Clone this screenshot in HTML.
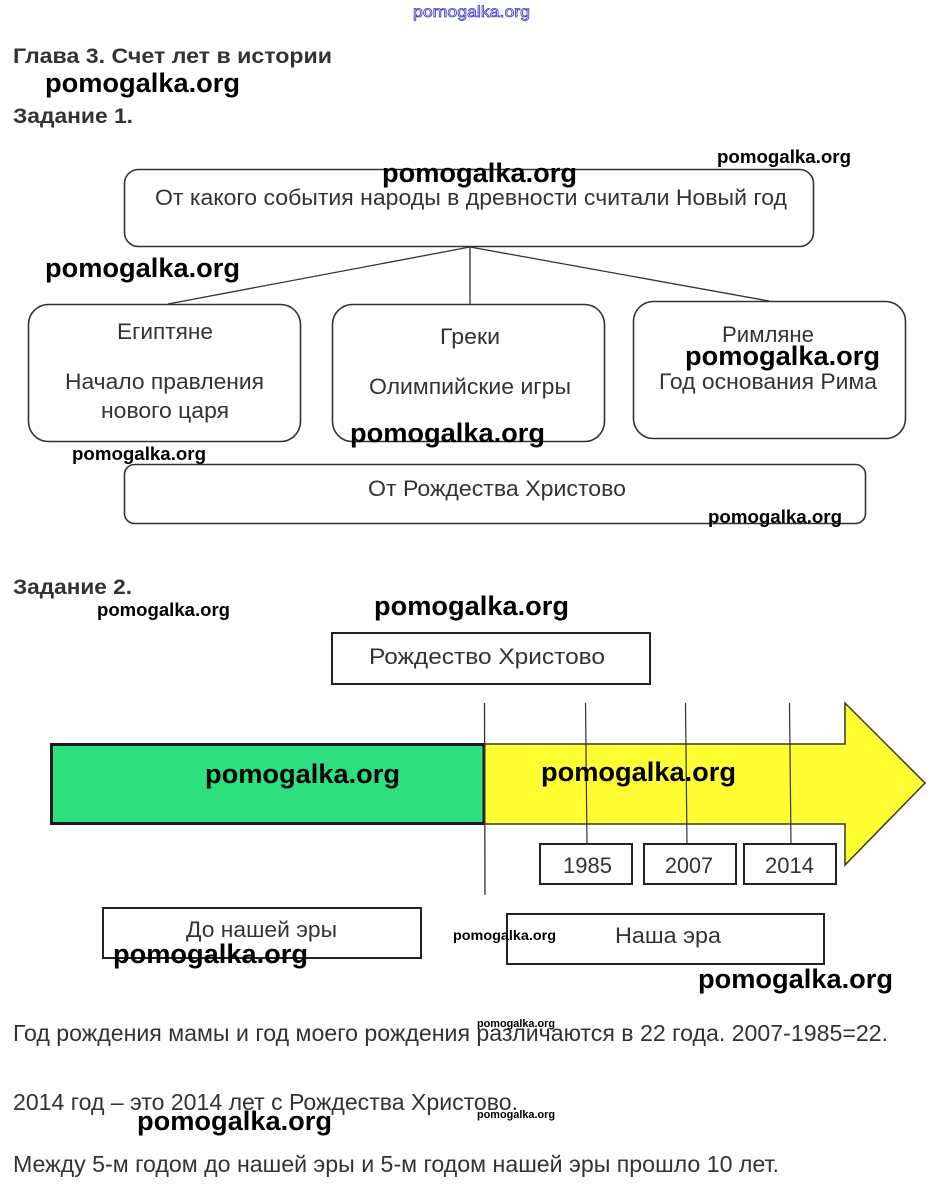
<!DOCTYPE html>
<html><head><meta charset="utf-8"><style>
html,body{margin:0;padding:0;background:#fff;}
svg{display:block;}
.t{font-family:"Liberation Sans",Arial,sans-serif;fill:#333;}
.h{font-family:"Liberation Sans",Arial,sans-serif;font-weight:bold;fill:#333;}
.w{font-family:"Liberation Sans",Arial,sans-serif;font-weight:bold;fill:#000;}
</style></head><body>
<svg width="937" height="1191" viewBox="0 0 937 1191" xmlns="http://www.w3.org/2000/svg">
<rect width="937" height="1191" fill="#fff"/>
<!-- top blue outlined watermark -->
<text x="413" y="17" font-family="Liberation Sans, Arial, sans-serif" font-size="16" fill="#fff" stroke="#3a3ad0" stroke-width="0.8" textLength="117" lengthAdjust="spacingAndGlyphs">pomogalka.org</text>

<!-- headings -->
<text class="h" x="13" y="63" font-size="21" textLength="319" lengthAdjust="spacingAndGlyphs">Глава 3. Счет лет в истории</text>
<text class="h" x="13" y="123" font-size="21" textLength="120" lengthAdjust="spacingAndGlyphs">Задание 1.</text>

<!-- Task 1 diagram -->
<rect x="124.5" y="169.5" width="689" height="77" rx="14" fill="#fff" stroke="#333" stroke-width="1.6"/>
<text class="t" x="155" y="205" font-size="22" textLength="632" lengthAdjust="spacingAndGlyphs">От какого события народы в древности считали Новый год</text>

<line x1="470" y1="247" x2="168" y2="304" stroke="#333" stroke-width="1.3"/>
<line x1="470" y1="247" x2="470" y2="304" stroke="#333" stroke-width="1.3"/>
<line x1="470" y1="247" x2="769" y2="301" stroke="#333" stroke-width="1.3"/>

<rect x="28.5" y="304.5" width="272" height="137" rx="20" fill="#fff" stroke="#333" stroke-width="1.6"/>
<rect x="332.5" y="304.5" width="272" height="137" rx="20" fill="#fff" stroke="#333" stroke-width="1.6"/>
<rect x="633.5" y="301.5" width="272" height="137" rx="20" fill="#fff" stroke="#333" stroke-width="1.6"/>

<text class="t" x="117" y="339" font-size="22" textLength="96" lengthAdjust="spacingAndGlyphs">Египтяне</text>
<text class="t" x="65" y="389" font-size="22" textLength="199" lengthAdjust="spacingAndGlyphs">Начало правления</text>
<text class="t" x="101" y="418" font-size="22" textLength="128" lengthAdjust="spacingAndGlyphs">нового царя</text>

<text class="t" x="440" y="344" font-size="22" textLength="60" lengthAdjust="spacingAndGlyphs">Греки</text>
<text class="t" x="369" y="394" font-size="22" textLength="202" lengthAdjust="spacingAndGlyphs">Олимпийские игры</text>

<text class="t" x="722" y="342" font-size="22" textLength="92" lengthAdjust="spacingAndGlyphs">Римляне</text>
<text class="t" x="659" y="389" font-size="22" textLength="218" lengthAdjust="spacingAndGlyphs">Год основания Рима</text>

<rect x="124.5" y="464.5" width="741" height="59" rx="10" fill="#fff" stroke="#333" stroke-width="1.6"/>
<text class="t" x="368" y="496" font-size="22" textLength="258" lengthAdjust="spacingAndGlyphs">От Рождества Христово</text>

<!-- Task 2 -->
<text class="h" x="13" y="594" font-size="21" textLength="119" lengthAdjust="spacingAndGlyphs">Задание 2.</text>

<rect x="332" y="633" width="318" height="51" fill="#fff" stroke="#222" stroke-width="2"/>
<text class="t" x="369" y="664" font-size="22" textLength="236" lengthAdjust="spacingAndGlyphs">Рождество Христово</text>

<!-- yellow arrow -->
<path d="M484 744 L845 744 L845 703 L925 783 L845 865 L845 824 L484 824 Z" fill="#FFFF33" stroke="#3a3a20" stroke-width="1.5"/>
<!-- green bar -->
<rect x="51.5" y="744.5" width="432.5" height="79" fill="#2EE07F" stroke="#1c1c1c" stroke-width="3"/>

<!-- vertical lines -->
<line x1="484.5" y1="703" x2="485" y2="895" stroke="#333" stroke-width="1.3"/>
<line x1="585.5" y1="703" x2="587" y2="843" stroke="#333" stroke-width="1.2"/>
<line x1="685.5" y1="703" x2="687" y2="844" stroke="#333" stroke-width="1.2"/>
<line x1="789.5" y1="703" x2="791" y2="844" stroke="#333" stroke-width="1.2"/>

<rect x="540" y="844" width="92" height="40" fill="#fff" stroke="#222" stroke-width="2"/>
<rect x="644" y="844" width="92" height="40" fill="#fff" stroke="#222" stroke-width="2"/>
<rect x="744" y="844" width="92" height="40" fill="#fff" stroke="#222" stroke-width="2"/>
<text class="t" x="563" y="873" font-size="22" textLength="49" lengthAdjust="spacingAndGlyphs">1985</text>
<text class="t" x="665" y="873" font-size="22" textLength="48" lengthAdjust="spacingAndGlyphs">2007</text>
<text class="t" x="765" y="873" font-size="22" textLength="49" lengthAdjust="spacingAndGlyphs">2014</text>

<rect x="103" y="908" width="318" height="50" fill="#fff" stroke="#222" stroke-width="2"/>
<text class="t" x="186" y="937" font-size="22" textLength="151" lengthAdjust="spacingAndGlyphs">До нашей эры</text>
<rect x="507" y="914" width="317" height="50" fill="#fff" stroke="#222" stroke-width="2"/>
<text class="t" x="615" y="943" font-size="22" textLength="106" lengthAdjust="spacingAndGlyphs">Наша эра</text>

<!-- bottom text -->
<text class="t" x="13" y="1041" font-size="23" fill="#3a3a3a" textLength="875" lengthAdjust="spacingAndGlyphs">Год рождения мамы и год моего рождения различаются в 22 года. 2007-1985=22.</text>
<text class="t" x="13" y="1110" font-size="23" textLength="505" lengthAdjust="spacingAndGlyphs">2014 год – это 2014 лет с Рождества Христово.</text>
<text class="t" x="13" y="1172" font-size="23" textLength="766" lengthAdjust="spacingAndGlyphs">Между 5-м годом до нашей эры и 5-м годом нашей эры прошло 10 лет.</text>

<!-- watermarks large -->
<g class="w" font-size="27">
<text class="w" x="45" y="92" textLength="195" lengthAdjust="spacingAndGlyphs">pomogalka.org</text>
<text class="w" x="382" y="182" textLength="195" lengthAdjust="spacingAndGlyphs">pomogalka.org</text>
<text class="w" x="45" y="277" textLength="195" lengthAdjust="spacingAndGlyphs">pomogalka.org</text>
<text class="w" x="685" y="365" textLength="195" lengthAdjust="spacingAndGlyphs">pomogalka.org</text>
<text class="w" x="350" y="442" textLength="195" lengthAdjust="spacingAndGlyphs">pomogalka.org</text>
<text class="w" x="374" y="615" textLength="195" lengthAdjust="spacingAndGlyphs">pomogalka.org</text>
<text class="w" x="205" y="783" textLength="195" lengthAdjust="spacingAndGlyphs">pomogalka.org</text>
<text class="w" x="541" y="781" textLength="195" lengthAdjust="spacingAndGlyphs">pomogalka.org</text>
<text class="w" x="113" y="963" textLength="195" lengthAdjust="spacingAndGlyphs">pomogalka.org</text>
<text class="w" x="698" y="988" textLength="195" lengthAdjust="spacingAndGlyphs">pomogalka.org</text>
<text class="w" x="137" y="1130" textLength="195" lengthAdjust="spacingAndGlyphs">pomogalka.org</text>
</g>
<!-- watermarks small -->
<g font-size="18">
<text class="w" x="717" y="163" textLength="134" lengthAdjust="spacingAndGlyphs">pomogalka.org</text>
<text class="w" x="72" y="460" textLength="134" lengthAdjust="spacingAndGlyphs">pomogalka.org</text>
<text class="w" x="708" y="523" textLength="134" lengthAdjust="spacingAndGlyphs">pomogalka.org</text>
<text class="w" x="97" y="616" textLength="133" lengthAdjust="spacingAndGlyphs">pomogalka.org</text>
</g>
<text class="w" x="453" y="940" font-size="14" textLength="103" lengthAdjust="spacingAndGlyphs">pomogalka.org</text>
<text class="w" x="477" y="1027" font-size="11" textLength="78" lengthAdjust="spacingAndGlyphs">pomogalka.org</text>
<text class="w" x="477" y="1118" font-size="11" textLength="78" lengthAdjust="spacingAndGlyphs">pomogalka.org</text>
</svg>
</body></html>
